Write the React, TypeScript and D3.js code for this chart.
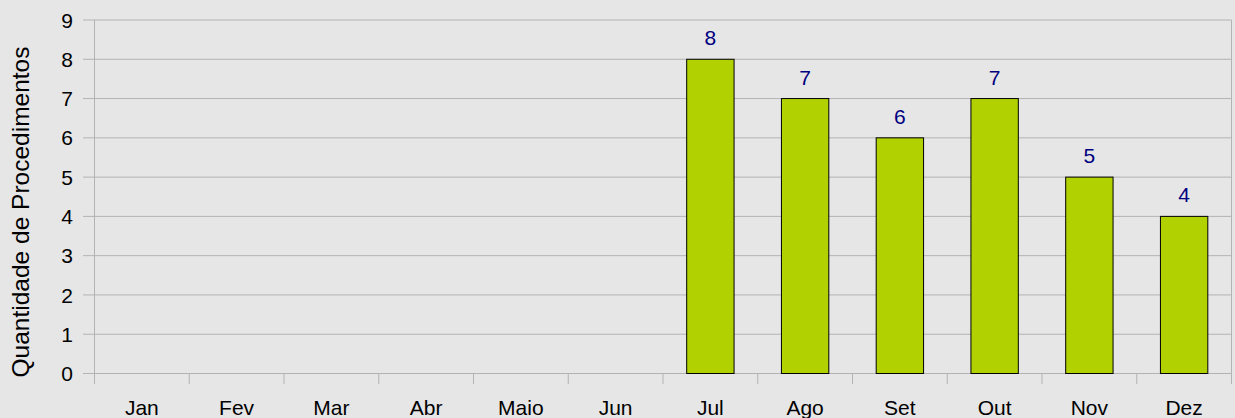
import React from "react";
import * as d3 from "d3";

const months = ["Jan", "Fev", "Mar", "Abr", "Maio", "Jun", "Jul", "Ago", "Set", "Out", "Nov", "Dez"];
const values: (number | null)[] = [null, null, null, null, null, null, 8, 7, 6, 7, 5, 4];
const yTicks = [0, 1, 2, 3, 4, 5, 6, 7, 8, 9];
const yTitle = "Quantidade de Procedimentos";

const W = 1235;
const H = 418;
const left = 94.5;
const right = 1231.5;
const top = 20;
const bottom = 373.5;
const font = "'Liberation Sans', Arial, sans-serif";

export default function App() {
  const x = d3.scaleBand<string>().domain(months).range([left, right]).paddingInner(0.5).paddingOuter(0.25);
  const y = d3.scaleLinear().domain([0, 9]).range([bottom, top]);
  const step = x.step();
  return (
    <svg width={W} height={H} style={{ position: "absolute", left: 0, top: 0, display: "block" }}>
      <rect x={0} y={0} width={W} height={H} fill="#e6e6e6" />
      {yTicks.map((t) => (
        <g key={t}>
          <line x1={83} x2={right} y1={y(t)} y2={y(t)} stroke="#b3b3b3" strokeWidth={1} />
          <text x={73} y={y(t)} dy="0.36em" textAnchor="end" fontFamily={font} fontSize={21} fill="#000">{t}</text>
        </g>
      ))}
      <line x1={left} x2={left} y1={top} y2={bottom + 10.5} stroke="#b3b3b3" strokeWidth={1} />
      <line x1={right} x2={right} y1={top} y2={bottom} stroke="#b3b3b3" strokeWidth={1} />
      {months.map((m, i) => (
        <line key={m} x1={left + step * (i + 1)} x2={left + step * (i + 1)} y1={bottom} y2={bottom + 10.5} stroke="#b3b3b3" strokeWidth={1} />
      ))}
      {months.map((m, i) => {
        const v = values[i];
        if (v == null) return null;
        const bx = x(m)!;
        return (
          <g key={m}>
            <rect x={bx} y={y(v)} width={x.bandwidth()} height={bottom - y(v)} fill="#b2d100" stroke="#000" strokeWidth={1} />
            <text x={bx + x.bandwidth() / 2} y={y(v) - 14} textAnchor="middle" fontFamily={font} fontSize={21} fill="#000080">{v}</text>
          </g>
        );
      })}
      {months.map((m) => (
        <text key={m} x={x(m)! + x.bandwidth() / 2} y={415} textAnchor="middle" fontFamily={font} fontSize={21} fill="#000">{m}</text>
      ))}
      <text transform={`translate(29,212) rotate(-90)`} textAnchor="middle" fontFamily={font} fontSize={24.5} fill="#000">{yTitle}</text>
    </svg>
  );
}
